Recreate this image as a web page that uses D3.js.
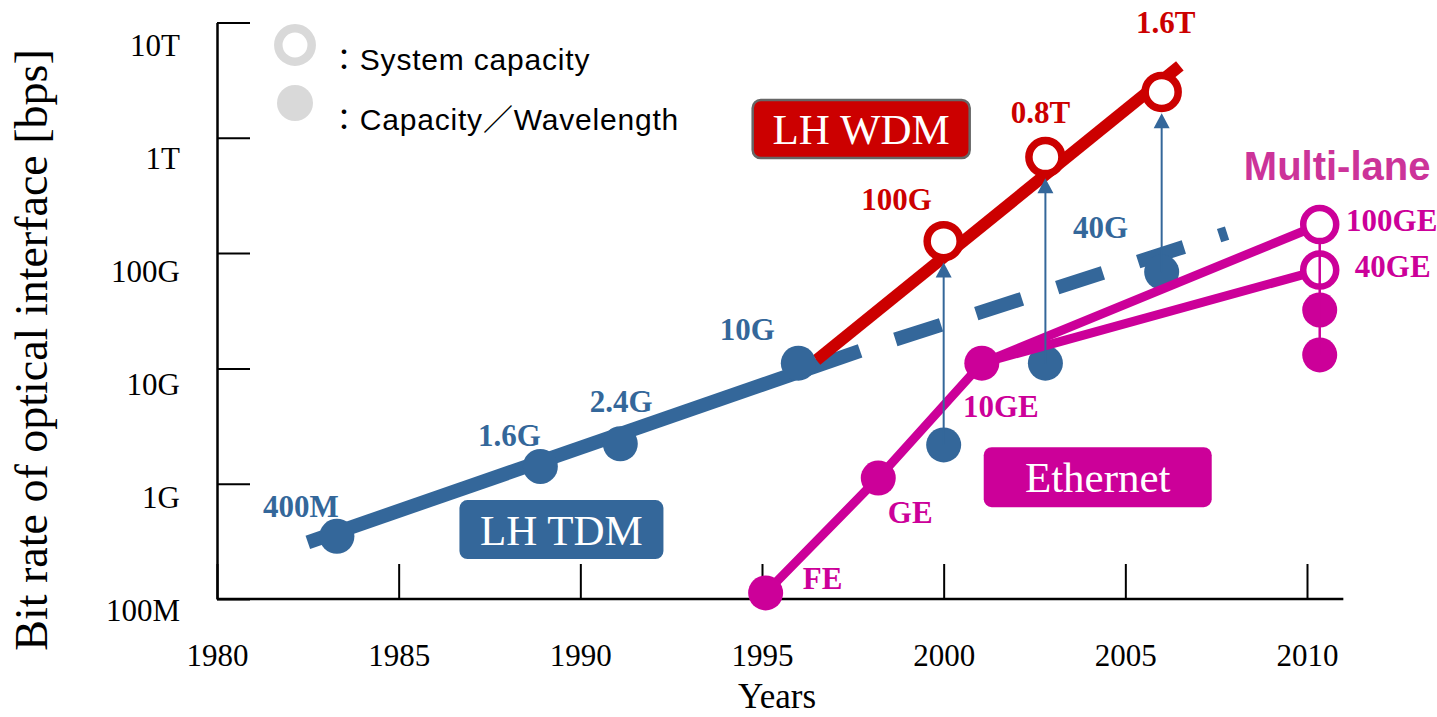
<!DOCTYPE html>
<html><head><meta charset="utf-8">
<script src="https://cdn.jsdelivr.net/npm/d3@7"></script>
<style>html,body{margin:0;padding:0;background:#fff;} svg{display:block;}</style>
</head><body>
<svg id="chart" width="1437" height="717"></svg>
<script>
// ---------------- data ----------------
const yearTicks = [1980, 1985, 1990, 1995, 2000, 2005, 2010];
const rateTicks = [1e8, 1e9, 1e10, 1e11, 1e12, 1e13];
const rateTickLabels = ["100M", "1G", "10G", "100G", "1T", "10T"];

// LH TDM (capacity per wavelength, filled blue)
const tdmYears = [1983.3, 1988.9, 1991.1, 1996.0];
const tdmRates = [3.5e8, 1.41e9, 2.22e9, 1.11e10];
const tdmLabels = ["400M", "1.6G", "2.4G", "10G"];

// LH TDM trend: solid part then dashed extension
const tdmTrendYears = [1982.5, 1997.7];
const tdmTrendRates = [3.1e8, 1.42e10];
const tdmDashYears = [1997.7, 2007.8];
const tdmDashRates = [1.42e10, 1.49e11];

// LH WDM (system capacity, open red)
const wdmLineYears = [1996.5, 2006.5];
const wdmLineRates = [1.18e10, 4.2e12];
const wdmYears = [2000.0, 2002.8, 2006.0];
const wdmRates = [1.27e11, 6.8e11, 2.5e12];
const wdmLabels = ["100G", "0.8T", "1.6T"];

// WDM capacity per wavelength (filled blue, arrows up to system capacity)
const lambdaYears = [2000.0, 2002.8, 2006.0];
const lambdaRates = [2.17e9, 1.11e10, 6.85e10];
const lambdaLabels = ["", "", "40G"];

// Ethernet
const ethYears = [1995.1, 1998.2, 2001.05];
const ethRates = [1.13e8, 1.12e9, 1.11e10];
const ethLabels = ["FE", "GE", "10GE"];

// Multi-lane Ethernet (2010)
const mlYear = 2010.35;
const mlSystemRates = [1.77e11, 7.13e10];
const mlSystemLabels = ["100GE", "40GE"];
const mlLaneRates = [3.21e10, 1.31e10];

// Boxed category labels
const boxTexts = ["LH WDM", "LH TDM", "Ethernet"];
const boxYears = [1997.73, 1989.48, 2004.24];
const boxRates = [1.19e12, 4.0e8, 1.14e9];

const legendTexts = ["：System capacity", "：Capacity／Wavelength"];

// ---------------- styles ----------------
const BLUE = "#34679a", RED = "#cc0000", MAG = "#cc0099", ML = "#cc3399", GREY = "#d9d9d9";
const boxStyle = {
  "LH WDM": {fill: RED, w: 217, h: 58, stroke: "#666"},
  "LH TDM": {fill: BLUE, w: 204, h: 59, stroke: "none"},
  "Ethernet": {fill: MAG, w: 228, h: 60, stroke: "none"}
};
const labelOffsets = {
  "400M": [-36, -19], "1.6G": [-31, -20], "2.4G": [1, -32], "10G": [-51, -23],
  "40G": [-61, -34], "100G": [-47, -31], "0.8T": [-5, -34], "1.6T": [4, -59],
  "100GE": [72, 6], "40GE": [73, 7], "10GE": [19, 54], "GE": [32, 45], "FE": [57, -4]
};
const R_FILL = 17.5, R_OPEN = 16.5, OPEN_W = 7.5;

// ---------------- scales ----------------
const svg = d3.select("#chart");
const x = d3.scaleLinear().domain([1980, 2010]).range([217, 1307]);
const y = d3.scaleLog().domain([1e8, 1e13]).range([599, 22.5]);
const yLab = d3.scaleLog().domain([1e8, 1e13]).range([621, 56]);
const line = d3.line().x(d => x(d[0])).y(d => y(d[1]));
const zip = (a, b) => a.map((v, i) => [v, b[i]]);

// ---------------- axes ----------------
const xAxis = d3.axisBottom(x).tickValues(yearTicks).tickFormat(d3.format("d"))
  .tickSizeInner(-35).tickSizeOuter(0).tickPadding(45);
const gx = svg.append("g").attr("transform", "translate(0,599)").call(xAxis);
gx.select(".domain").remove();
gx.selectAll(".tick line").attr("stroke", "#000").attr("stroke-width", 2);
gx.selectAll(".tick text").attr("font-family", "Liberation Serif").attr("font-size", 31).attr("fill", "#000");
svg.append("line").attr("x1", x(1980)).attr("x2", x(2011)).attr("y1", 599).attr("y2", 599)
  .attr("stroke", "#000").attr("stroke-width", 2.5);

const yAxis = d3.axisRight(y).tickValues(rateTicks).tickFormat("").tickSizeInner(33).tickSizeOuter(0);
const gy = svg.append("g").attr("transform", "translate(217,0)").call(yAxis);
gy.select(".domain").attr("stroke", "#000").attr("stroke-width", 2.5);
gy.selectAll(".tick line").attr("stroke", "#000").attr("stroke-width", 2);
svg.append("g").selectAll("text").data(rateTicks).join("text")
  .attr("x", 180).attr("y", d => yLab(d)).attr("text-anchor", "end")
  .attr("font-family", "Liberation Serif").attr("font-size", 31).attr("fill", "#000")
  .text((d, i) => rateTickLabels[i]);

svg.append("text").attr("x", 777).attr("y", 708).attr("text-anchor", "middle")
  .attr("font-family", "Liberation Serif").attr("font-size", 35).text("Years");
svg.append("text").attr("transform", "translate(47,350) rotate(-90)").attr("text-anchor", "middle")
  .attr("font-family", "Liberation Serif").attr("font-size", 46)
  .text("Bit rate of optical interface [bps]");

// ---------------- lines ----------------
svg.append("path").attr("d", line(zip(tdmTrendYears, tdmTrendRates)))
  .attr("stroke", BLUE).attr("stroke-width", 14).attr("fill", "none");
svg.append("path").attr("d", line(zip(tdmDashYears, tdmDashRates)))
  .attr("stroke", BLUE).attr("stroke-width", 14).attr("fill", "none")
  .attr("stroke-dasharray", "48,37").attr("stroke-dashoffset", 48);
svg.append("path").attr("d", line(zip(wdmLineYears, wdmLineRates)))
  .attr("stroke", RED).attr("stroke-width", 12).attr("fill", "none");

// blue filled circles
svg.append("g").selectAll("circle").data(zip(tdmYears, tdmRates).concat(zip(lambdaYears, lambdaRates))).join("circle")
  .attr("cx", d => x(d[0])).attr("cy", d => y(d[1])).attr("r", R_FILL).attr("fill", BLUE);

// Ethernet lines
const tenGE = [ethYears[2], ethRates[2]];
svg.append("path").attr("d", line(zip(ethYears, ethRates)))
  .attr("stroke", MAG).attr("stroke-width", 9).attr("fill", "none");
mlSystemRates.forEach(r => {
  svg.append("path").attr("d", line([tenGE, [mlYear, r]]))
    .attr("stroke", MAG).attr("stroke-width", 9).attr("fill", "none");
});

// arrows from per-wavelength to system capacity
lambdaYears.forEach((yr, i) => {
  const px = x(yr), tip = y(wdmRates[i]) + R_OPEN + OPEN_W / 2 + 1;
  svg.append("line").attr("x1", px).attr("x2", px).attr("y1", y(lambdaRates[i])).attr("y2", tip + 12)
    .attr("stroke", BLUE).attr("stroke-width", 2);
  svg.append("path").attr("d", `M${px},${tip}L${px - 8},${tip + 15}L${px + 8},${tip + 15}Z`).attr("fill", BLUE);
});

// Ethernet filled circles
svg.append("g").selectAll("circle").data(zip(ethYears, ethRates).concat(mlLaneRates.map(r => [mlYear, r]))).join("circle")
  .attr("cx", d => x(d[0])).attr("cy", d => y(d[1])).attr("r", R_FILL).attr("fill", MAG);

// red open circles
svg.append("g").selectAll("circle").data(zip(wdmYears, wdmRates)).join("circle")
  .attr("cx", d => x(d[0])).attr("cy", d => y(d[1])).attr("r", R_OPEN)
  .attr("fill", "#fff").attr("stroke", RED).attr("stroke-width", OPEN_W);

// multi-lane open circles + connector
svg.append("circle").attr("cx", x(mlYear)).attr("cy", y(mlSystemRates[1])).attr("r", R_OPEN)
  .attr("fill", "#fff").attr("stroke", MAG).attr("stroke-width", 6.5);
svg.append("line").attr("x1", x(mlYear)).attr("x2", x(mlYear))
  .attr("y1", y(mlSystemRates[0])).attr("y2", y(mlLaneRates[mlLaneRates.length - 1]))
  .attr("stroke", MAG).attr("stroke-width", 2.5);
svg.append("circle").attr("cx", x(mlYear)).attr("cy", y(mlSystemRates[0])).attr("r", R_OPEN)
  .attr("fill", "#fff").attr("stroke", MAG).attr("stroke-width", 6.5);

// ---------------- data labels ----------------
function addLabels(years, rates, labels, color) {
  labels.forEach((t, i) => {
    if (!t) return;
    const o = labelOffsets[t];
    svg.append("text").attr("x", x(years[i]) + o[0]).attr("y", y(rates[i]) + o[1])
      .attr("text-anchor", "middle").attr("font-family", "Liberation Serif").attr("font-weight", "bold")
      .attr("font-size", 31).attr("fill", color).text(t);
  });
}
addLabels(tdmYears, tdmRates, tdmLabels, BLUE);
addLabels(lambdaYears, lambdaRates, lambdaLabels, BLUE);
addLabels(wdmYears, wdmRates, wdmLabels, RED);
addLabels(ethYears, ethRates, ethLabels, MAG);
addLabels(mlSystemRates.map(() => mlYear), mlSystemRates, mlSystemLabels, MAG);

svg.append("text").attr("x", x(2010.83)).attr("y", y(4.3e11)).attr("text-anchor", "middle")
  .attr("font-family", "Liberation Sans").attr("font-weight", "bold").attr("font-size", 40)
  .attr("fill", ML).text("Multi-lane");

// ---------------- boxes ----------------
boxTexts.forEach((t, i) => {
  const s = boxStyle[t], cx = x(boxYears[i]), cy = y(boxRates[i]);
  svg.append("rect").attr("x", cx - s.w / 2).attr("y", cy - s.h / 2).attr("width", s.w).attr("height", s.h)
    .attr("rx", 8).attr("fill", s.fill).attr("stroke", s.stroke).attr("stroke-width", 2.5);
  svg.append("text").attr("x", cx).attr("y", cy + 15).attr("text-anchor", "middle")
    .attr("font-family", "Liberation Serif").attr("font-size", 43).attr("fill", "#fff").text(t);
});

// ---------------- legend ----------------
svg.append("circle").attr("cx", 295).attr("cy", 45).attr("r", 16.7).attr("fill", "none")
  .attr("stroke", GREY).attr("stroke-width", 8.5);
svg.append("circle").attr("cx", 295).attr("cy", 103).attr("r", 18).attr("fill", GREY);
legendTexts.forEach((t, i) => {
  svg.append("text").attr("x", 329).attr("y", 70 + i * 60)
    .attr("font-family", "Liberation Sans, Noto Sans CJK JP").attr("font-size", 30)
    .attr("letter-spacing", 0.8).attr("fill", "#000").text(t);
});
</script>
</body></html>
